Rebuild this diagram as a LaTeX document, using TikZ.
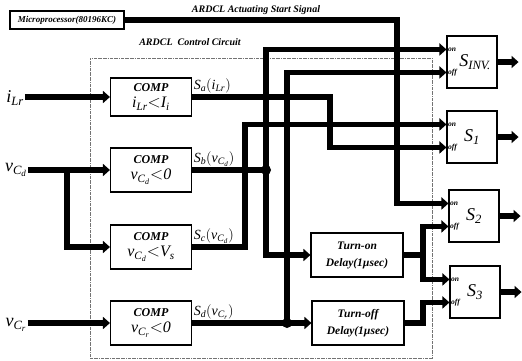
\documentclass[tikz,border=0pt]{standalone}
\usepackage{amsmath}
\usepackage{fontspec}
\setmainfont{Liberation Serif}
\usetikzlibrary{positioning,arrows.meta,calc}

\newcommand{\vcd}{\textit{v}_{\textit{C}_{\textit{d}}}}
\newcommand{\vcr}{\textit{v}_{\textit{C}_{\textit{r}}}}
\newcommand{\ilr}{\textit{i}_{\textit{Lr}}}
\newcommand{\fmla}{\fontsize{16}{18}\selectfont\mdseries}

\begin{document}
\begin{tikzpicture}[x=1pt, y=-1pt, font=\bfseries\itshape,
  blk/.style={draw, line width=1.1pt, minimum width=81pt, minimum height=44pt, align=center, inner sep=1pt, font=\fontsize{12}{16}\selectfont\bfseries\itshape},
  dly/.style={draw, line width=1.1pt, minimum width=92pt, minimum height=44pt, align=center, inner sep=1pt, font=\fontsize{11.5}{17}\selectfont\bfseries\itshape},
  sw/.style={draw, line width=1.1pt, minimum width=50pt, minimum height=52pt, font=\fontsize{18}{18}\selectfont\mdseries\itshape},
  port/.style={anchor=west, inner sep=1.5pt, font=\fontsize{7.5}{7.5}\selectfont\bfseries\itshape},
  bus/.style={line width=5.5pt, -{Triangle[length=7pt, width=12pt]}},
  wire/.style={line width=5.5pt},
  dot/.style={circle, fill, inner sep=0pt, minimum size=10pt},
  sig/.style={inner sep=0.5pt, font=\fontsize{14}{14}\selectfont\mdseries\itshape},
  inp/.style={inner sep=1pt, font=\fontsize{18}{18}\selectfont\mdseries\itshape},
  ttl/.style={inner sep=1pt, font=\fontsize{10}{10}\selectfont\bfseries\itshape},
  frame/.style={draw=black!55, densely dash dot, line width=0.5pt, inner sep=0pt}]
\useasboundingbox (0,0) rectangle (522,360);

% control circuit frame
\node[frame, minimum width=342pt, minimum height=300pt] (ctrl) at (261,208) {};
\node[ttl] (ctrltl) at (190,42) {ARDCL~~Control Circuit};

% blocks
\node[draw, line width=1.5pt, minimum width=114pt, minimum height=18pt, inner sep=1pt, font=\fontsize{9}{9}\selectfont\bfseries\itshape] (micro) at (67,20) {Microprocessor(80196KC)};
\node[ttl] (acttl) at (256,10) {ARDCL Actuating Start Signal};
\node[blk, minimum height=38pt] (comp1) at (151,97) {COMP\\{\fmla$\ilr {<} \textit{I}_{\textit{i}}$}};
\node[blk] (comp2) at (151,170) {COMP\\{\fmla$\vcd {<} \textit{0}$}};
\node[blk] (comp3) at (151,247) {COMP\\{\fmla$\vcd {<} \textit{V}_{\textit{s}}$}};
\node[blk] (comp4) at (151,323) {COMP\\{\fmla$\vcr {<} \textit{0}$}};
\node[dly] (ton) at (357,255) {Turn-on\\Delay(1µsec)};
\node[dly] (toff) at (358,323) {Turn-off\\Delay(1µsec)};

% switches
\node[sw] (sinv) at (472,62) {\hspace*{6pt}$\textit{S}_{\textit{INV.}}$};
\node[sw] (s1) at (472,137) {$\textit{S}_{\textit{1}}$};
\node[sw] (s2) at (474,216) {$\textit{S}_{\textit{2}}$};
\node[sw] (s3) at (475,292) {$\textit{S}_{\textit{3}}$};
\node[port] (sinv-on) at ($(sinv.north west)+(0,14)$) {on};
\node[port] (sinv-off) at ($(sinv.north west)+(0,37)$) {off};
\node[port] (s1-on) at ($(s1.north west)+(0,14)$) {on};
\node[port] (s1-off) at ($(s1.north west)+(0,37)$) {off};
\node[port] (s2-on) at ($(s2.north west)+(0,14)$) {on};
\node[port] (s2-off) at ($(s2.north west)+(0,37)$) {off};
\node[port] (s3-on) at ($(s3.north west)+(0,14)$) {on};
\node[port] (s3-off) at ($(s3.north west)+(0,37)$) {off};

% inputs
\node[inp] (ilr) at (15,98) {$\ilr$};
\node[inp] (vcd) at (16,170) {$\vcd$};
\node[inp] (vcr) at (16,325) {$\vcr$};

% signal labels
\node[sig, above right=3pt and 1pt of comp1.east] (lsa) {$\textit{S}_{\textit{a}}(\ilr)$};
\node[sig, above right=3pt and 1pt of comp2.east] (lsb) {$\textit{S}_{\textit{b}}(\vcd)$};
\node[sig, above right=3pt and 1pt of comp3.east] (lsc) {$\textit{S}_{\textit{c}}(\vcd)$};
\node[sig, above right=3pt and 1pt of comp4.east] (lsd) {$\textit{S}_{\textit{d}}(\vcr)$};

% wire columns
\coordinate (xv) at (67,0);
\coordinate (xc) at (245,0);
\coordinate (xb) at (266,0);
\coordinate (xd) at (287,0);
\coordinate (xa) at (330,0);
\coordinate (xm) at (397,0);
\coordinate (xe) at (423,0);
\coordinate (oinv) at ($(sinv.east)+(21,0)$);
\coordinate (os1) at ($(s1.east)+(21,0)$);
\coordinate (os2) at ($(s2.east)+(21,0)$);
\coordinate (os3) at ($(s3.east)+(21,0)$);

\draw[bus] (ilr.east |- comp1.west) -- (comp1.west);
\draw[bus] (vcd.east |- comp2.west) -- (comp2.west);
\draw[bus] (xv |- comp2.west) |- (comp3.west);
\draw[bus] (vcr.east |- comp4.west) -- (comp4.west);
\draw[bus] (micro.east) -| (xm |- s2-on.west) -- (s2-on.west);
\draw[bus] (comp1.east) -| (xa |- s1-off.west) -- (s1-off.west);
\draw[wire] (comp2.east) -- (xb |- comp2.east);
\draw[bus] (xb |- comp2.east) |- (sinv-on.west);
\draw[bus] (xb |- comp2.east) |- (ton.west);
\draw[bus] (comp3.east) -| (xc |- s1-on.west) -- (s1-on.west);
\draw[bus] (comp4.east) -- (toff.west);
\draw[bus] (xd |- comp4.east) |- (sinv-off.west);
\draw[bus] (ton.east) -| (xe |- s2-off.west) -- (s2-off.west);
\draw[bus] (xe |- ton.east) |- (s3-on.west);
\draw[bus] (toff.east) -| (xe |- s3-off.west) -- (s3-off.west);
\node[dot] (jb) at (xb |- comp2.east) {};
\node[dot] (jd) at (xd |- comp4.east) {};
\draw[bus] (sinv.east) -- (oinv);
\draw[bus] (s1.east) -- (os1);
\draw[bus] (s2.east) -- (os2);
\draw[bus] (s3.east) -- (os3);
\end{tikzpicture}
\end{document}
